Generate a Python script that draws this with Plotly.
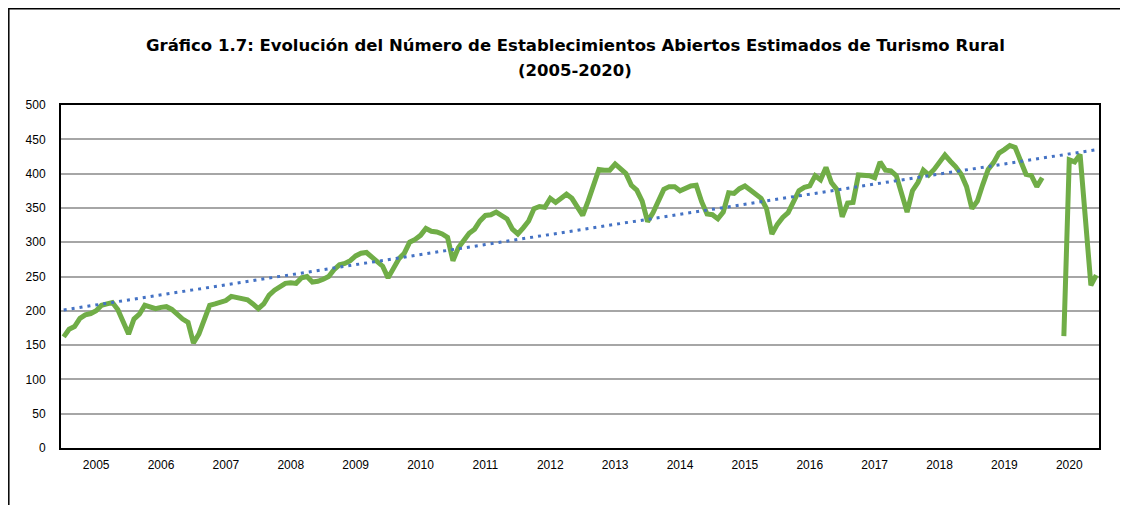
import numpy as np
import plotly.graph_objects as go

# =========================
# DATA (monthly, Jan 2005 - Dec 2020)
# =========================
years = [str(y) for y in range(2005, 2021)]

values_2005 = [162, 173, 177, 189, 194, 196, 200, 208, 210, 212, 202, 183]
values_2006 = [166, 188, 195, 208, 206, 203, 205, 206, 202, 194, 188, 183]
values_2007 = [153, 166, 185, 208, 210, 212, 215, 221, 219, 218, 216, 210]
values_2008 = [203, 210, 223, 230, 234, 240, 241, 240, 248, 250, 242, 243]
values_2009 = [246, 250, 260, 267, 269, 273, 280, 284, 285, 278, 270, 265]
values_2010 = [248, 264, 276, 284, 300, 304, 310, 320, 316, 315, 312, 307]
values_2011 = [273, 292, 303, 313, 319, 331, 339, 340, 344, 339, 334, 319]
values_2012 = [312, 321, 331, 349, 352, 351, 364, 358, 364, 370, 364, 350]
values_2013 = [339, 360, 384, 406, 405, 405, 414, 407, 400, 383, 376, 360]
values_2014 = [330, 343, 360, 377, 381, 381, 375, 378, 382, 383, 359, 341]
values_2015 = [340, 334, 344, 372, 371, 378, 382, 376, 370, 364, 349, 312]
values_2016 = [326, 336, 343, 360, 375, 380, 382, 397, 391, 409, 387, 377]
values_2017 = [337, 357, 358, 398, 398, 397, 394, 417, 405, 404, 397, 373]
values_2018 = [344, 375, 387, 405, 398, 406, 417, 427, 418, 410, 399, 381]
values_2019 = [349, 360, 384, 406, 416, 430, 435, 441, 438, 417, 399, 397]
values_2020 = [381, 394, None, None, None, 163, 420, 417, 428, 333, 237, 252]

series = (
    values_2005 + values_2006 + values_2007 + values_2008
    + values_2009 + values_2010 + values_2011 + values_2012
    + values_2013 + values_2014 + values_2015 + values_2016
    + values_2017 + values_2018 + values_2019 + values_2020
)

month_idx = np.arange(len(series))

# linear trend (as the spreadsheet trendline)
y_arr = np.array([np.nan if v is None else v for v in series], dtype=float)
mask = ~np.isnan(y_arr)
slope, intercept = np.polyfit(month_idx[mask], y_arr[mask], 1)
trend = intercept + slope * month_idx

# =========================
# LAYOUT GEOMETRY
# (page body has an 8px margin, so the figure is shrunk by it)
# =========================
OFF = 8
W, H = 1128 - OFF, 505 - OFF
M_L, M_R, M_T, M_B = 61 - OFF, 29, 105 - OFF, 57
PW = W - M_L - M_R
PH = H - M_T - M_B


def px_x(x):
    return (x - OFF - M_L) / PW


def px_y(y):
    return (H - M_B - (y - OFF)) / PH


FONT = "Liberation Sans, Arial, sans-serif"
TITLE_FONT = "DejaVu Sans, Verdana, sans-serif"

fig = go.Figure()

fig.add_trace(
    go.Scatter(
        x=month_idx,
        y=series,
        mode="lines",
        line=dict(color="#70AD47", width=5),
        connectgaps=False,
        hoverinfo="y",
        showlegend=False
    )
)

fig.add_trace(
    go.Scatter(
        x=month_idx,
        y=trend,
        mode="lines",
        line=dict(color="#4472C4", width=3, dash="3px,5px"),
        hoverinfo="skip",
        showlegend=False
    )
)

fig.update_layout(
    width=W,
    height=H,
    margin=dict(l=M_L, r=M_R, t=M_T, b=M_B),
    paper_bgcolor="white",
    plot_bgcolor="white",
    font=dict(family=FONT, size=12, color="black"),
    xaxis=dict(
        range=[-0.5, len(series) - 0.5],
        tickvals=[12 * k + 6 for k in range(len(years))],
        ticktext=years,
        showgrid=False,
        zeroline=False,
        showline=True,
        linecolor="black",
        linewidth=2,
        mirror=True,
        ticks="",
        tickfont=dict(size=12),
        ticklabelstandoff=5
    ),
    yaxis=dict(
        range=[0, 500],
        dtick=50,
        showgrid=True,
        gridcolor="#A6A6A6",
        gridwidth=2,
        zeroline=False,
        showline=True,
        linecolor="black",
        linewidth=2,
        mirror=True,
        ticks="",
        tickfont=dict(size=12),
        ticklabelstandoff=11
    ),
)

# title (two lines)
title_lines = [
    "Gráfico 1.7: Evolución del Número de Establecimientos Abiertos Estimados de Turismo Rural",
    "(2005-2020)"
]
for text, ypix in zip(title_lines, [45, 70]):
    fig.add_annotation(
        text="<b>" + text + "</b>",
        xref="paper",
        yref="paper",
        x=px_x(575),
        y=px_y(ypix),
        showarrow=False,
        xanchor="center",
        yanchor="middle",
        font=dict(family=TITLE_FONT, size=16.5, color="black")
    )

# outer chart frame
fig.add_shape(
    type="rect",
    xref="paper",
    yref="paper",
    x0=px_x(8.8),
    x1=px_x(1121),
    y0=px_y(520),
    y1=px_y(8.8),
    line=dict(color="black", width=1.5),
    layer="below"
)

fig.write_html("out.html")
